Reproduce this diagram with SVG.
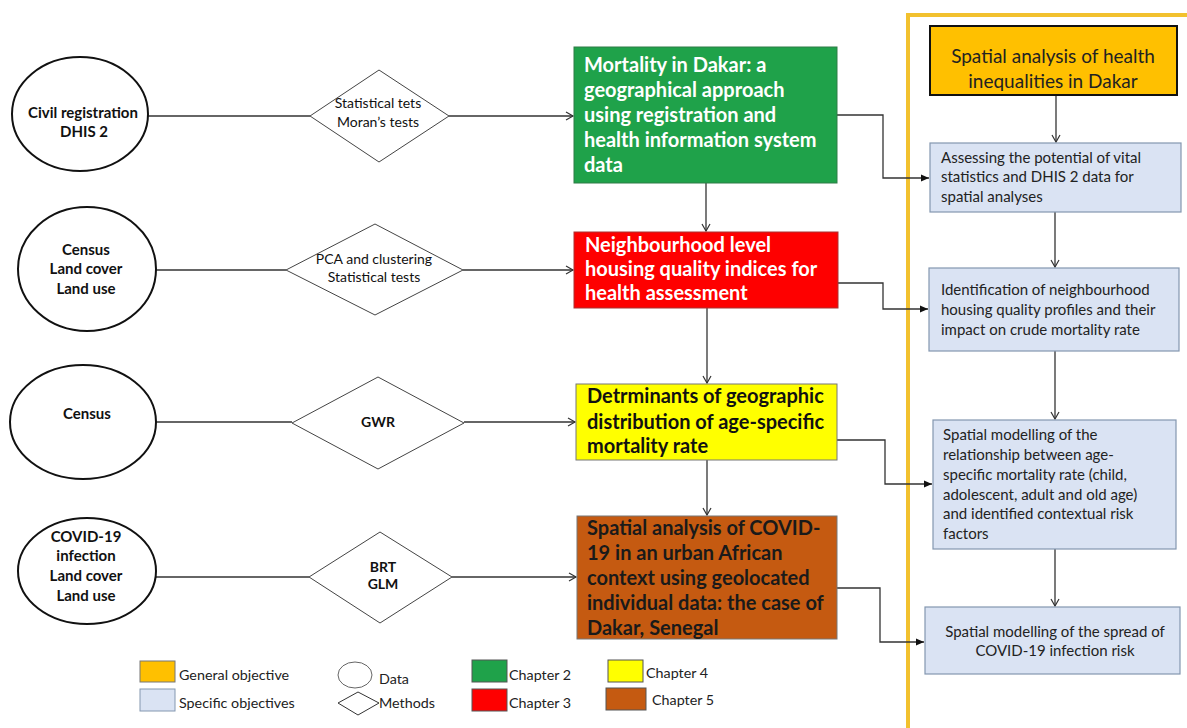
<svg xmlns="http://www.w3.org/2000/svg" width="1187" height="728" viewBox="0 0 1187 728">
<defs>
<marker id="open" markerWidth="10" markerHeight="10" refX="8" refY="5" orient="auto" markerUnits="userSpaceOnUse">
<path d="M1,1 L8,5 L1,9" fill="none" stroke="#333" stroke-width="1.2"/>
</marker>
<marker id="filled" markerWidth="10" markerHeight="10" refX="9" refY="5" orient="auto" markerUnits="userSpaceOnUse">
<path d="M1,1.5 L9,5 L1,8.5 Z" fill="#111"/>
</marker>
</defs>
<style>
text{font-family:Lato,"Liberation Sans",sans-serif;}
.data{fill:#fff;stroke:#111;stroke-width:2;}
.meth{fill:#fff;stroke:#444;stroke-width:1;}
.dt{font-size:15px;font-weight:bold;text-anchor:middle;fill:#111;}
.mt{font-size:14px;text-anchor:middle;fill:#111;}
.ch{font-size:20px;font-weight:bold;}
.so{fill:#dae3f3;stroke:#8497b0;stroke-width:1.2;}
.st{font-size:15px;fill:#222;}
.ln{fill:none;stroke:#333;stroke-width:1.3;}
.lg{font-size:14.3px;fill:#222;}
</style>
<rect width="1187" height="728" fill="#fff"/>
<!-- frame -->
<path d="M1190,15 L908,15 L908,735" fill="none" stroke="#f2c12e" stroke-width="4"/>

<g id="connectors">
<line class="ln" x1="148" y1="116" x2="310" y2="116"/>
<line class="ln" x1="449" y1="116" x2="573" y2="116" marker-end="url(#open)"/>
<line class="ln" x1="156" y1="270" x2="286" y2="270"/>
<line class="ln" x1="463" y1="270" x2="573" y2="270" marker-end="url(#open)"/>
<line class="ln" x1="156" y1="422" x2="292" y2="422"/>
<line class="ln" x1="464" y1="422" x2="575" y2="422" marker-end="url(#open)"/>
<line class="ln" x1="156" y1="577" x2="309" y2="577"/>
<line class="ln" x1="452" y1="577" x2="576" y2="577" marker-end="url(#open)"/>
<line class="ln" x1="706" y1="183" x2="706" y2="231" marker-end="url(#open)"/>
<line class="ln" x1="707" y1="308" x2="707" y2="383" marker-end="url(#open)"/>
<line class="ln" x1="707" y1="460" x2="707" y2="515" marker-end="url(#open)"/>
<polyline class="ln" points="837,115 883,115 883,178 929,178" marker-end="url(#filled)"/>
<polyline class="ln" points="838,283 883,283 883,309 928,309" marker-end="url(#filled)"/>
<polyline class="ln" points="837,440 885,440 885,484 932,484" marker-end="url(#filled)"/>
<polyline class="ln" points="837,588 880,588 880,642 924,642" marker-end="url(#filled)"/>
<line class="ln" x1="1056" y1="95" x2="1056" y2="142" marker-end="url(#open)"/>
<line class="ln" x1="1055" y1="212" x2="1055" y2="267" marker-end="url(#open)"/>
<line class="ln" x1="1055" y1="351" x2="1055" y2="419" marker-end="url(#open)"/>
<line class="ln" x1="1055" y1="549" x2="1055" y2="606" marker-end="url(#open)"/>
</g>

<g id="data1"><ellipse class="data" cx="80" cy="114" rx="68" ry="57"/>
<text class="dt" x="83" y="118">Civil registration</text><text class="dt" x="84" y="137">DHIS 2</text></g>
<g id="data2"><ellipse class="data" cx="87" cy="269" rx="69" ry="62"/>
<text class="dt" x="86" y="255">Census</text><text class="dt" x="86" y="274">Land cover</text><text class="dt" x="86" y="294">Land use</text></g>
<g id="data3"><ellipse class="data" cx="83" cy="422" rx="73" ry="57"/>
<text class="dt" x="87" y="419">Census</text></g>
<g id="data4"><ellipse class="data" cx="87" cy="571" rx="69" ry="53"/>
<text class="dt" x="86" y="542">COVID-19</text><text class="dt" x="86" y="561">infection</text><text class="dt" x="86" y="581">Land cover</text><text class="dt" x="86" y="601">Land use</text></g>

<g id="method1"><polygon class="meth" points="310,116 379,70 449,116 379,162"/>
<text class="mt" x="378" y="108">Statistical tets</text><text class="mt" x="378" y="127">Moran’s tests</text></g>
<g id="method2"><polygon class="meth" points="286,270 375,224 463,270 375,315"/>
<text class="mt" x="374" y="264">PCA and clustering</text><text class="mt" x="374" y="282">Statistical tests</text></g>
<g id="method3"><polygon class="meth" points="292,423 378,377 464,423 378,469"/>
<text class="mt" x="378" y="427" font-weight="bold">GWR</text></g>
<g id="method4"><polygon class="meth" points="309,577 380,532 452,577 380,623"/>
<text class="mt" x="383" y="572" font-weight="bold">BRT</text><text class="mt" x="383" y="589" font-weight="bold">GLM</text></g>

<g id="chapter2"><rect x="574" y="47" width="263" height="136" fill="#1fa24a" stroke="#2e7d46" stroke-width="1"/>
<text class="ch" fill="#fff" x="584" y="72">Mortality in Dakar: a</text>
<text class="ch" fill="#fff" x="584" y="97">geographical approach</text>
<text class="ch" fill="#fff" x="584" y="122">using registration and</text>
<text class="ch" fill="#fff" x="584" y="147">health information system</text>
<text class="ch" fill="#fff" x="584" y="172">data</text></g>
<g id="chapter3"><rect x="574" y="232" width="264" height="76" fill="#fe0000" stroke="#a33" stroke-width="1"/>
<text class="ch" fill="#fff" x="585" y="252">Neighbourhood level</text>
<text class="ch" fill="#fff" x="585" y="276">housing quality indices for</text>
<text class="ch" fill="#fff" x="585" y="300">health assessment</text></g>
<g id="chapter4"><rect x="576" y="384" width="261" height="76" fill="#ffff00" stroke="#777" stroke-width="1"/>
<text class="ch" fill="#111" x="587" y="403">Detrminants of geographic</text>
<text class="ch" fill="#111" x="587" y="429">distribution of age-specific</text>
<text class="ch" fill="#111" x="587" y="453">mortality rate</text></g>
<g id="chapter5"><rect x="577" y="516" width="260" height="123" fill="#c55a11" stroke="#777" stroke-width="1"/>
<text class="ch" fill="#1a1a1a" x="587" y="535">Spatial analysis of COVID-</text>
<text class="ch" fill="#1a1a1a" x="587" y="560">19 in an urban African</text>
<text class="ch" fill="#1a1a1a" x="587" y="585">context using geolocated</text>
<text class="ch" fill="#1a1a1a" x="587" y="610">individual data: the case of</text>
<text class="ch" fill="#1a1a1a" x="587" y="635">Dakar, Senegal</text></g>

<g id="general"><rect x="930" y="26" width="247" height="69" fill="#ffc000" stroke="#111" stroke-width="2"/>
<text x="1053" y="63" font-size="19" text-anchor="middle" fill="#222">Spatial analysis of health</text>
<text x="1053" y="88" font-size="19" text-anchor="middle" fill="#222">inequalities in Dakar</text></g>
<g id="obj1"><rect class="so" x="930" y="143" width="251" height="69"/>
<text class="st" x="941" y="163">Assessing the potential of vital</text>
<text class="st" x="941" y="182">statistics and DHIS 2 data for</text>
<text class="st" x="941" y="202">spatial analyses</text></g>
<g id="obj2"><rect class="so" x="929" y="268" width="250" height="83"/>
<text class="st" x="941" y="295">Identification of neighbourhood</text>
<text class="st" x="941" y="315">housing quality profiles and their</text>
<text class="st" x="941" y="335">impact on crude mortality rate</text></g>
<g id="obj3"><rect class="so" x="933" y="420" width="243" height="129"/>
<text class="st" x="943" y="440">Spatial modelling of the</text>
<text class="st" x="943" y="460">relationship between age-</text>
<text class="st" x="943" y="480">specific mortality rate (child,</text>
<text class="st" x="943" y="500">adolescent, adult and old age)</text>
<text class="st" x="943" y="519">and identified contextual risk</text>
<text class="st" x="943" y="539">factors</text></g>
<g id="obj4"><rect class="so" x="925" y="607" width="255" height="67"/>
<text class="st" x="1055" y="637" text-anchor="middle">Spatial modelling of the spread of</text>
<text class="st" x="1055" y="656" text-anchor="middle">COVID-19 infection risk</text></g>

<g id="legend">
<rect x="140" y="661" width="35" height="21" fill="#ffc000" stroke="#777"/>
<text class="lg" x="179" y="680">General objective</text>
<rect x="140" y="689" width="35" height="22" fill="#dae3f3" stroke="#8497b0"/>
<text class="lg" x="179" y="708">Specific objectives</text>
<ellipse cx="355" cy="675" rx="17" ry="13" fill="#fff" stroke="#666"/>
<text class="lg" x="379" y="684">Data</text>
<polygon points="338,703 358,692 379,703 358,715" fill="#fff" stroke="#333"/>
<text class="lg" x="379" y="708">Methods</text>
<rect x="472" y="660" width="35" height="22" fill="#1fa24a" stroke="#555"/>
<text class="lg" x="509" y="680">Chapter 2</text>
<rect x="472" y="689" width="35" height="22" fill="#fe0000" stroke="#555"/>
<text class="lg" x="509" y="708">Chapter 3</text>
<rect x="608" y="660" width="35" height="22" fill="#ffff00" stroke="#555"/>
<text class="lg" x="646" y="678">Chapter 4</text>
<rect x="606" y="688" width="40" height="22" fill="#c55a11" stroke="#555"/>
<text class="lg" x="652" y="705">Chapter 5</text>
</g>
</svg>
